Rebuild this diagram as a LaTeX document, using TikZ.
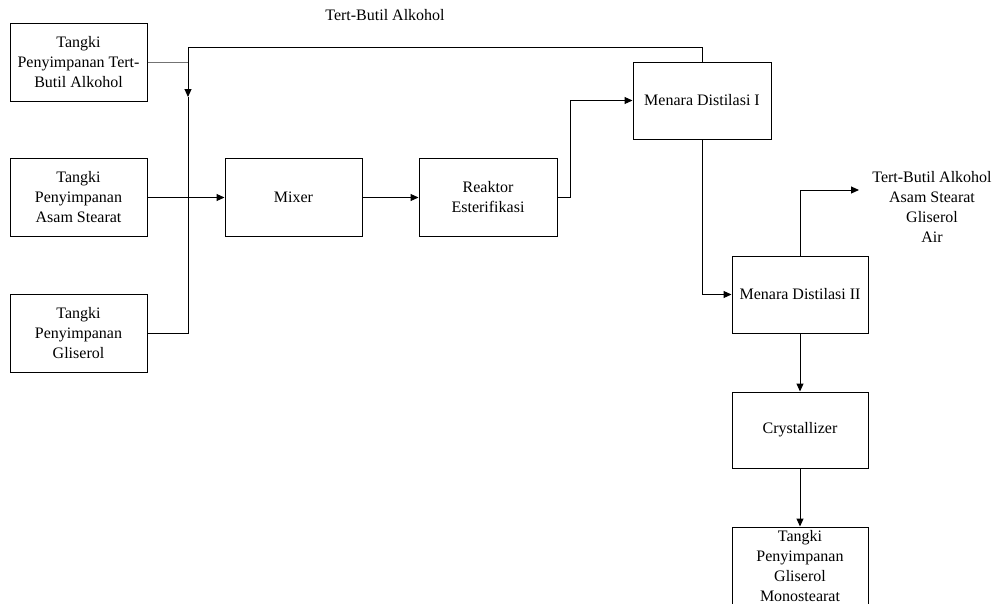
\documentclass[tikz,border=0pt]{standalone}
\usepackage{fontspec}
\setmainfont{Liberation Serif}
\usetikzlibrary{arrows.meta}
\begin{document}
\begin{tikzpicture}[x=1pt,y=-1pt,
  box/.style={draw,line width=1pt,align=center,inner sep=0pt,minimum width=137pt,minimum height=78pt,font=\fontsize{16}{20}\selectfont},
  lbl/.style={align=center,inner sep=0pt,font=\fontsize{16}{20}\selectfont},
  flow/.style={line width=1pt},
  arr/.style={line width=1pt,-{Triangle[length=8pt,width=7pt]}}]
\clip (0,0) rectangle (995,603);
\node[box] (t1) at (78.5,62) {Tangki\\Penyimpanan Tert-\\Butil Alkohol};
\node[box] (t2) at (78.5,197.5) {Tangki\\Penyimpanan\\Asam Stearat};
\node[box] (t3) at (78.5,333) {Tangki\\Penyimpanan\\Gliserol};
\node[box] (mix) at (293.5,197.5) {Mixer};
\node[box,minimum width=138pt] (rx) at (488,197.5) {Reaktor\\Esterifikasi};
\node[box,minimum width=138pt,minimum height=77pt] (md1) at (702,100.5) {Menara Distilasi I};
\node[box,minimum width=136pt,minimum height=77pt] (md2) at (800,294.5) {Menara Distilasi II};
\node[box,minimum width=136pt,minimum height=76pt] (cr) at (800,430) {Crystallizer};
\node[box,minimum width=136pt] (tk) at (800,566) {Tangki\\Penyimpanan\\Gliserol\\Monostearat};
\node[lbl] (top) at (385,15) {Tert-Butil Alkohol};
\node[lbl] (out) at (932,207) {Tert-Butil Alkohol\\Asam Stearat\\Gliserol\\Air};
\coordinate (ja) at (188,47);
\coordinate (jb) at (188,97);
\coordinate (jm) at (188,197.5);
\coordinate (jt1) at (188,62);
\coordinate (jt3) at (188,333);
\coordinate (jr) at (570,197.5);
\coordinate (jo) at (859,190);
% recycle from Menara Distilasi I to mixer
\draw[arr] (md1.north) -- (md1.north |- ja) -- (ja) -- (jb);
\draw[flow] (jb) -- (jm);
\draw[flow,draw=black!55] (t1.east) -- (jt1);
\draw[flow] (t3.east) -- (jt3) -- (jm);
\draw[arr] (t2.east) -- (mix.west);
\draw[arr] (mix.east) -- (rx.west);
\draw[arr] (rx.east) -- (jr) |- (md1.west);
\draw[arr] (md1.south) |- (md2.west);
\draw[arr] (md2.north) |- (jo);
\draw[arr] (md2.south) -- (cr.north);
\draw[arr] (cr.south) -- (tk.north);
\end{tikzpicture}
\end{document}
